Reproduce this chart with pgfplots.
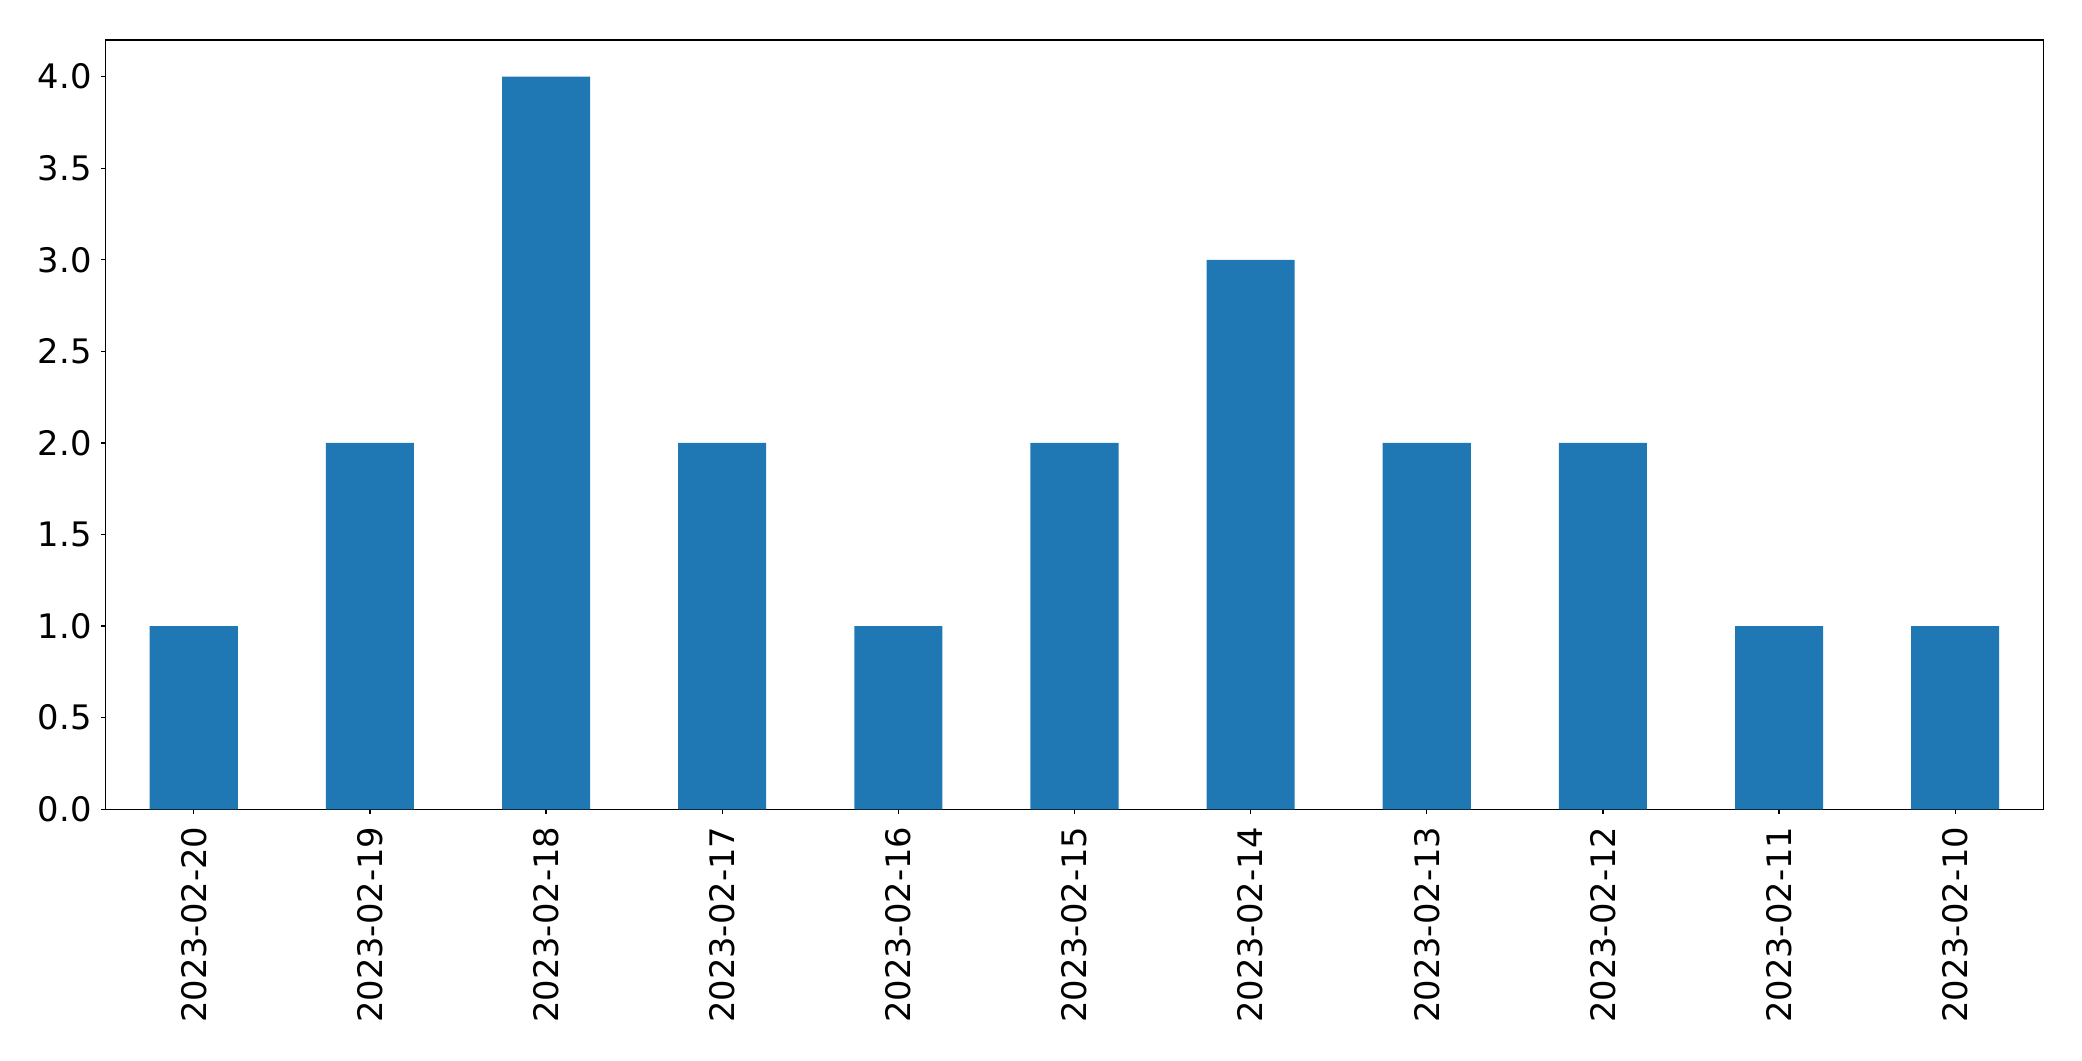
\documentclass[border=0pt]{standalone}
\usepackage{pgfplots}
\pgfplotsset{compat=1.18}
\usepackage{fontspec}
\setmainfont{DejaVu Sans}
\definecolor{tabblue}{HTML}{1F77B4}
\begin{document}
\begin{tikzpicture}
\path[use as bounding box] (-76.1pt,-181.2pt) rectangle (1423.0pt,582.7pt);
\begin{axis}[
  at={(0,0)}, anchor=south west,
  scale only axis, width=1395.1pt, height=553.9pt,
  xmin=-0.5, xmax=10.5, ymin=0, ymax=4.2,
  ybar, bar width=0.5,
  axis line style={black, line width=0.9pt},
  tick style={black, line width=0.9pt},
  tick align=outside, major tick length=3.4pt,
  xtick pos=left, ytick pos=left,
  xtick=data,
  xticklabels={2023-02-20,2023-02-19,2023-02-18,2023-02-17,2023-02-16,2023-02-15,2023-02-14,2023-02-13,2023-02-12,2023-02-11,2023-02-10},
  ytick={0,0.5,1,1.5,2,2.5,3,3.5,4},
  tick label style={font=\fontsize{24.3}{28}\selectfont},
  /pgf/number format/assume math mode=true,
  y tick label style={/pgf/number format/fixed, /pgf/number format/fixed zerofill, /pgf/number format/precision=1, anchor=east, inner sep=0pt},
  x tick label style={rotate=90, anchor=east, inner sep=0pt},
  xticklabel shift=9pt,
  yticklabel shift=6.6pt,
]
\addplot[fill=tabblue, draw=none] coordinates {
  (0,1) (1,2) (2,4) (3,2) (4,1) (5,2) (6,3) (7,2) (8,2) (9,1) (10,1)
};
\end{axis}
\end{tikzpicture}
\end{document}
